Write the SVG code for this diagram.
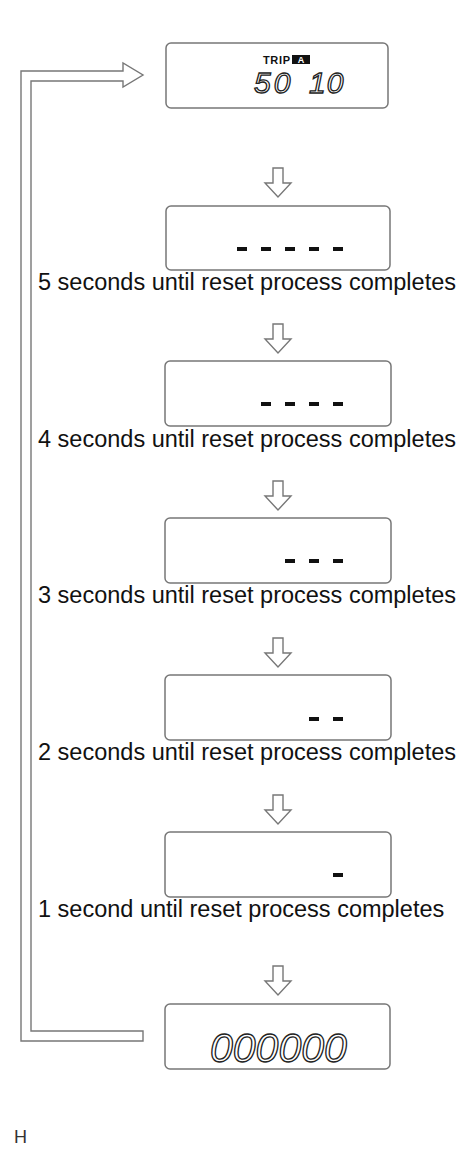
<svg xmlns="http://www.w3.org/2000/svg" width="474" height="1156" viewBox="0 0 474 1156">
<style>
.box{fill:#fff;stroke:#777;stroke-width:1.5}
.conn{fill:#fff;stroke:#777;stroke-width:1.4;stroke-linejoin:miter}
.lbl{font-family:"Liberation Sans",Arial,sans-serif;font-size:23.5px;fill:#111}
.seg{fill:#111}
.lcd{font-family:"Liberation Sans",Arial,sans-serif;font-style:italic;fill:#fff;stroke:#222;stroke-width:1.3}
</style>
<defs>
<path id="dn" d="M-5,0 H5 V15 H13 L0,29 L-13,15 H-5 Z"/>
</defs>
<rect width="474" height="1156" fill="#fff"/>
<g id="connectors">
<path class="conn" d="M143,1031 H31 V81 H123 V87 L143,75 L123,63 V71 H21 V1041 H143 Z"/>
<use href="#dn" class="conn" transform="translate(278,168)"/>
<use href="#dn" class="conn" transform="translate(278,324)"/>
<use href="#dn" class="conn" transform="translate(278,481)"/>
<use href="#dn" class="conn" transform="translate(278,638)"/>
<use href="#dn" class="conn" transform="translate(278,795)"/>
<use href="#dn" class="conn" transform="translate(278,966)"/>
</g>
<g id="node-trip">
<rect class="box" x="166" y="43" width="222" height="65" rx="5"/>
<text x="263" y="63.5" font-family="Liberation Sans,Arial,sans-serif" font-weight="bold" font-size="11" fill="#111" textLength="27">TRIP</text>
<rect x="292" y="55" width="18" height="9" fill="#111"/>
<text x="301" y="62.8" font-family="Liberation Sans,Arial,sans-serif" font-weight="bold" font-size="9" fill="#fff" text-anchor="middle">A</text>
<text class="lcd" x="254" y="93" font-size="30" letter-spacing="3">50<tspan x="309" letter-spacing="1">10</tspan></text>
</g>
<g id="node-5">
<rect class="box" x="166" y="206" width="224" height="64" rx="5"/>
<rect class="seg" x="237" y="247" width="10" height="4"/>
<rect class="seg" x="261" y="247" width="10" height="4"/>
<rect class="seg" x="285" y="247" width="10" height="4"/>
<rect class="seg" x="309" y="247" width="10" height="4"/>
<rect class="seg" x="333" y="247" width="10" height="4"/>
<text class="lbl" x="38" y="290">5 seconds until reset process completes</text>
</g>
<g id="node-4">
<rect class="box" x="165" y="361" width="226" height="65" rx="5"/>
<rect class="seg" x="261" y="402" width="10" height="4"/>
<rect class="seg" x="285" y="402" width="10" height="4"/>
<rect class="seg" x="309" y="402" width="10" height="4"/>
<rect class="seg" x="333" y="402" width="10" height="4"/>
<text class="lbl" x="38" y="447">4 seconds until reset process completes</text>
</g>
<g id="node-3">
<rect class="box" x="165" y="518" width="226" height="65" rx="5"/>
<rect class="seg" x="285" y="559" width="10" height="4"/>
<rect class="seg" x="309" y="559" width="10" height="4"/>
<rect class="seg" x="333" y="559" width="10" height="4"/>
<text class="lbl" x="38" y="603">3 seconds until reset process completes</text>
</g>
<g id="node-2">
<rect class="box" x="165" y="675" width="226" height="65" rx="5"/>
<rect class="seg" x="309" y="717" width="10" height="4"/>
<rect class="seg" x="333" y="717" width="10" height="4"/>
<text class="lbl" x="38" y="760">2 seconds until reset process completes</text>
</g>
<g id="node-1">
<rect class="box" x="165" y="832" width="226" height="65" rx="5"/>
<rect class="seg" x="333" y="873" width="10" height="4"/>
<text class="lbl" x="38" y="917">1 second until reset process completes</text>
</g>
<g id="node-zero">
<rect class="box" x="165" y="1004" width="225" height="65" rx="5"/>
<text class="lcd" x="210" y="1062" font-size="41">000000</text>
</g>
<text x="14" y="1143" font-family="Liberation Sans,Arial,sans-serif" font-size="18" fill="#333">H</text>
</svg>
